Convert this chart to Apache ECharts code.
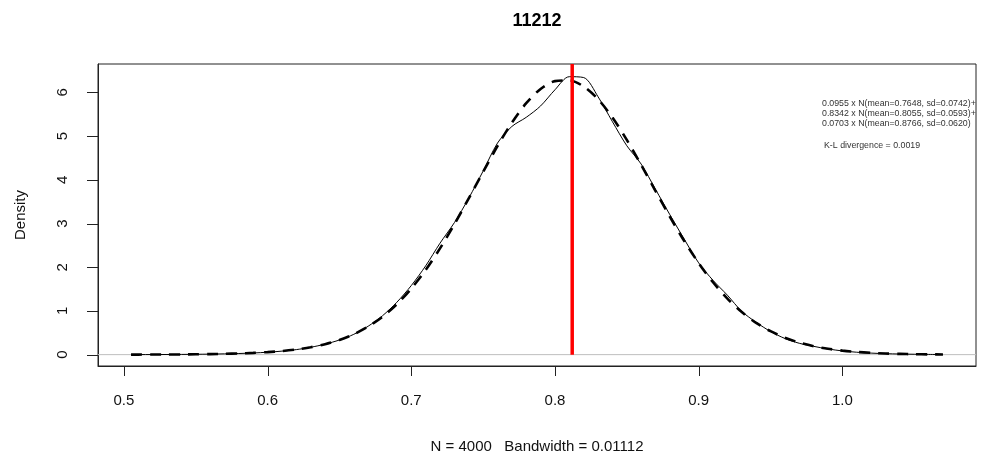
<!DOCTYPE html>
<html><head><meta charset="utf-8">
<script src="https://cdn.jsdelivr.net/npm/echarts@6/dist/echarts.min.js"></script>
<style>html,body{margin:0;padding:0;background:#fff}#c{width:984px;height:459px}</style>
</head><body><div id="c"></div>
<script>
const densityX = [0.505,0.51,0.52,0.53,0.54,0.55,0.56,0.57,0.58,0.59,0.60,0.61,0.62,0.63,0.64,0.65,0.66,0.67,0.68,0.69,0.70,0.71,0.72,0.73,0.74,0.75,0.76,0.77,0.78,0.79,0.80,0.81,0.82,0.83,0.84,0.85,0.86,0.87,0.88,0.89,0.90,0.91,0.92,0.93,0.94,0.95,0.96,0.97,0.98,0.99,1.00,1.01,1.02,1.03,1.04,1.05,1.06,1.07];
const kernelDensity = [0.001,0.001,0.002,0.003,0.005,0.008,0.012,0.018,0.026,0.038,0.055,0.080,0.115,0.168,0.240,0.335,0.465,0.650,0.890,1.20,1.58,2.03,2.55,3.02,3.58,4.20,4.84,5.22,5.43,5.69,6.06,6.36,6.34,5.90,5.33,4.78,4.36,3.78,3.20,2.64,2.10,1.70,1.36,0.99,0.74,0.53,0.37,0.26,0.19,0.13,0.085,0.055,0.035,0.022,0.014,0.009,0.005,0.003];
const mixtureFit = [0.001,0.0014,0.0022,0.0034,0.005,0.008,0.012,0.018,0.027,0.040,0.058,0.083,0.119,0.169,0.239,0.336,0.467,0.642,0.868,1.156,1.512,1.938,2.431,2.985,3.574,4.181,4.771,5.306,5.753,6.079,6.258,6.276,6.134,5.843,5.425,4.913,4.341,3.744,3.155,2.599,2.095,1.655,1.282,0.975,0.728,0.536,0.388,0.276,0.194,0.134,0.092,0.061,0.041,0.026,0.017,0.010,0.006,0.004];
const xTicks = [0.5,0.6,0.7,0.8,0.9,1.0];
const yTicks = [0,1,2,3,4,5,6];
const redLineX = 0.812;
const titleText = '11212';
const xLabel = 'N = 4000   Bandwidth = 0.01112';
const yLabel = 'Density';
const annotationLines = [
  '0.0955 x N(mean=0.7648, sd=0.0742)+',
  '0.8342 x N(mean=0.8055, sd=0.0593)+',
  '0.0703 x N(mean=0.8766, sd=0.0620)',
  'K-L divergence = 0.0019'
];

const XMIN = 0.482, XMAX = 1.093, YMIN = -0.26, YMAX = 6.65;
const FONT = '"Liberation Sans", Arial, sans-serif';
const TICK_X_LEN = 10, TICK_Y_LEN = 11;

const chart = echarts.init(document.getElementById('c'), null, {renderer: 'canvas'});
const kd = densityX.map((x, i) => [x, kernelDensity[i]]);
const mf = densityX.map((x, i) => [x, mixtureFit[i]]);

const annoY = [104, 114, 123.5, 146];
const annoX = [822, 822, 822, 824];

function tickItem(isX) {
  return function (params, api) {
    const v = api.value(isX ? 0 : 1);
    const p = isX ? api.coord([v, YMIN]) : api.coord([XMIN, v]);
    const shape = isX
      ? {x1: Math.round(p[0]) + 0.5, y1: p[1], x2: Math.round(p[0]) + 0.5, y2: p[1] + TICK_X_LEN}
      : {x1: p[0], y1: Math.round(p[1]) + 0.5, x2: p[0] - TICK_Y_LEN, y2: Math.round(p[1]) + 0.5};
    return {type: 'line', shape: shape, style: {stroke: '#222', lineWidth: 1}};
  };
}

chart.setOption({
  animation: false,
  backgroundColor: '#fff',
  grid: {left: 98, right: 8, top: 64, bottom: 93, show: true, borderColor: '#222', borderWidth: 1, backgroundColor: 'transparent'},
  xAxis: {
    type: 'value', min: XMIN, max: XMAX,
    splitLine: {show: false},
    axisLine: {show: true, onZero: false, lineStyle: {color: '#222', width: 1}},
    axisTick: {show: false},
    axisLabel: {show: true, customValues: xTicks, formatter: v => v.toFixed(1), fontSize: 15, color: '#111', margin: 27, fontFamily: FONT}
  },
  yAxis: {
    type: 'value', min: YMIN, max: YMAX,
    splitLine: {show: false},
    axisLine: {show: true, onZero: false, lineStyle: {color: '#222', width: 1}},
    axisTick: {show: false},
    axisLabel: {show: true, customValues: yTicks, rotate: 90, fontSize: 15, color: '#111', margin: 28, fontFamily: FONT}
  },
  series: [
    {type: 'line', data: [[XMIN, 0], [XMAX, 0]], symbol: 'none', silent: true,
     lineStyle: {color: '#bebebe', width: 1}, z: 1},
    {type: 'line', data: kd, symbol: 'none', smooth: 0.3, silent: true,
     lineStyle: {color: '#000', width: 1}, z: 2},
    {type: 'line', data: mf, symbol: 'none', smooth: 0.3, silent: true,
     lineStyle: {color: '#000', width: 2.6, type: [11, 8]}, z: 3},
    {type: 'line', data: [[redLineX, 0], [redLineX, YMAX]], symbol: 'none', silent: true,
     lineStyle: {color: '#ff0000', width: 3.5}, z: 4},
    {type: 'custom', clip: false, silent: true, data: xTicks.map(v => [v, YMIN]), renderItem: tickItem(true), z: 5},
    {type: 'custom', clip: false, silent: true, data: yTicks.map(v => [XMIN, v]), renderItem: tickItem(false), z: 5}
  ],
  graphic: [
    {type: 'text', x: 537, y: 21, style: {text: titleText, fontSize: 18, fontWeight: 'bold', fontFamily: FONT, fill: '#000', align: 'center', verticalAlign: 'middle'}},
    {type: 'text', x: 537, y: 447, style: {text: xLabel, fontSize: 15, fontFamily: FONT, fill: '#111', align: 'center', verticalAlign: 'middle'}},
    {type: 'text', x: 21, y: 215, rotation: Math.PI / 2, style: {text: yLabel, fontSize: 15, fontFamily: FONT, fill: '#111', align: 'center', verticalAlign: 'middle'}}
  ].concat(annotationLines.map((t, i) => ({
    type: 'text', x: annoX[i], y: annoY[i],
    style: {text: t, fontSize: 8.8, fontFamily: FONT, fill: '#333', align: 'left', verticalAlign: 'middle'}
  })))
});
</script></body></html>
